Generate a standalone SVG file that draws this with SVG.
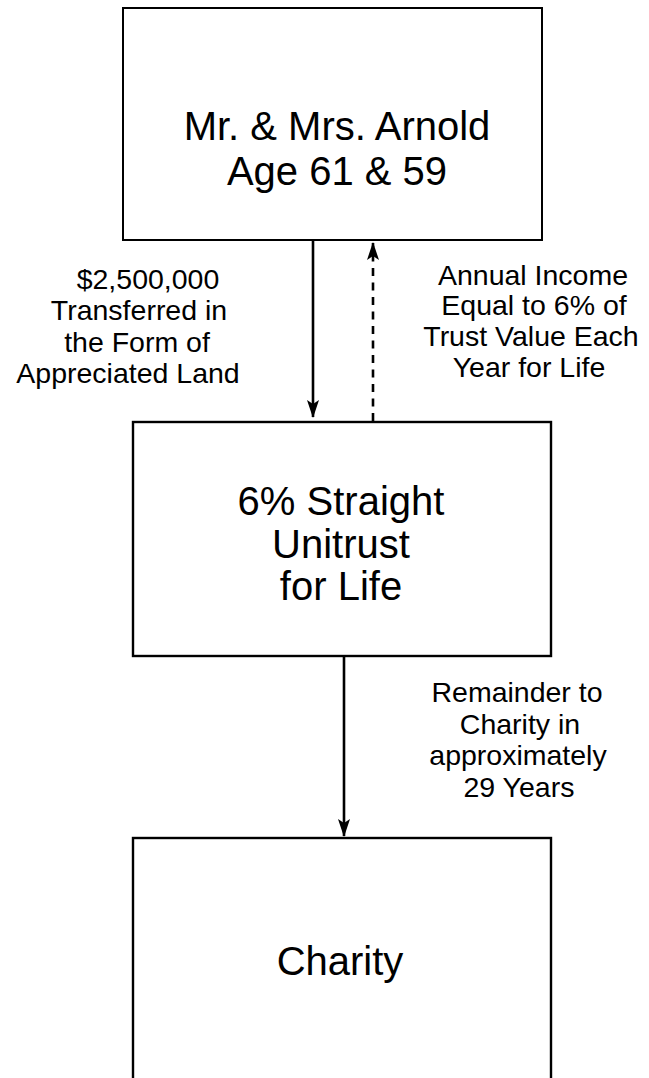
<svg xmlns="http://www.w3.org/2000/svg" width="649" height="1078" viewBox="0 0 649 1078">
  <style>
    .box { fill: #ffffff; stroke: #000000; stroke-width: 2.4; }
    .thin { stroke-width: 2; }
    .node { font-family: "Liberation Sans", Arial, sans-serif; font-size: 40px; fill: #000000; text-anchor: middle; }
    .lbl { font-family: "Liberation Sans", Arial, sans-serif; font-size: 28.5px; fill: #000000; text-anchor: middle; }
    .conn { stroke: #000000; stroke-width: 2.6; fill: none; }
    .dash { stroke-dasharray: 8 6.5; }
  </style>
  <defs>
    <marker id="ah" viewBox="0 0 18 12" refX="17" refY="6" markerWidth="18" markerHeight="12" markerUnits="userSpaceOnUse" orient="auto">
      <path d="M0,0 L18,6 L0,12 L4,6 Z" fill="#000000"/>
    </marker>
  </defs>
  <rect width="649" height="1078" fill="#ffffff"/>

  <g id="node-arnold">
    <rect class="box thin" x="123" y="8" width="419" height="232"/>
    <text class="node" x="337" y="140">Mr. &amp; Mrs. Arnold</text>
    <text class="node" x="337" y="185">Age 61 &amp; 59</text>
  </g>

  <g id="node-unitrust">
    <rect class="box" x="133" y="422" width="418" height="234"/>
    <text class="node" x="341" y="515">6% Straight</text>
    <text class="node" x="341" y="558">Unitrust</text>
    <text class="node" x="341" y="600">for Life</text>
  </g>

  <g id="node-charity">
    <rect class="box" x="133" y="838" width="418" height="260"/>
    <text class="node" x="340" y="975">Charity</text>
  </g>

  <g id="connectors">
    <line class="conn" x1="313" y1="241" x2="313" y2="417" marker-end="url(#ah)"/>
    <line class="conn dash" x1="373" y1="421" x2="373" y2="243" marker-end="url(#ah)"/>
    <line class="conn" x1="344" y1="657" x2="344" y2="836" marker-end="url(#ah)"/>
  </g>

  <g id="labels">
    <text class="lbl" x="148" y="289">$2,500,000</text>
    <text class="lbl" x="139" y="320">Transferred in</text>
    <text class="lbl" x="137" y="352">the Form of</text>
    <text class="lbl" x="128" y="383">Appreciated Land</text>

    <text class="lbl" x="533" y="285">Annual Income</text>
    <text class="lbl" x="534" y="315">Equal to 6% of</text>
    <text class="lbl" x="531" y="346">Trust Value Each</text>
    <text class="lbl" x="529" y="377">Year for Life</text>

    <text class="lbl" x="517" y="702">Remainder to</text>
    <text class="lbl" x="520" y="734">Charity in</text>
    <text class="lbl" x="518" y="765">approximately</text>
    <text class="lbl" x="519" y="797">29 Years</text>
  </g>
</svg>
